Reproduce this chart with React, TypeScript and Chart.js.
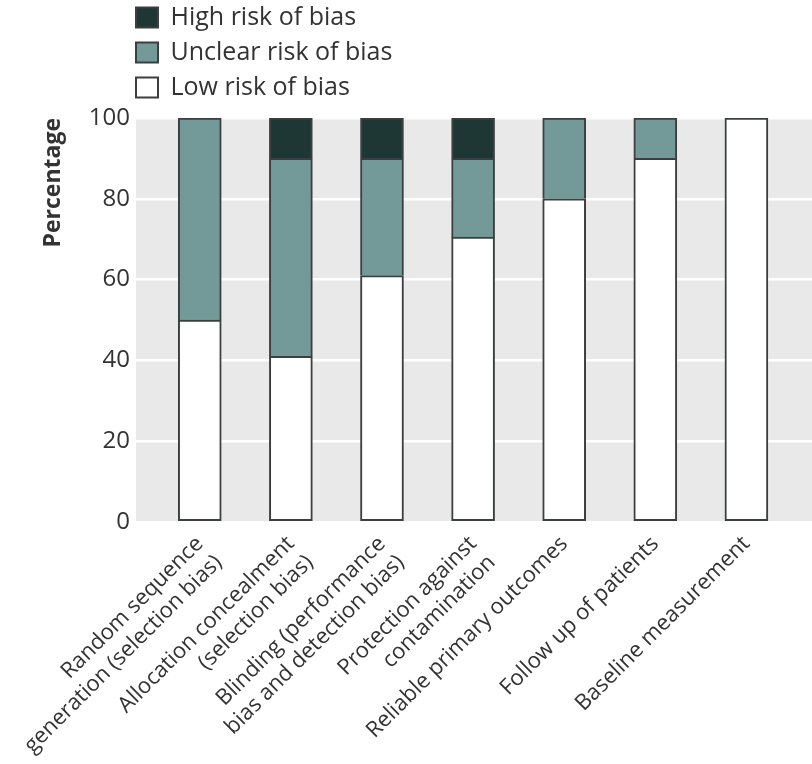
import { useEffect, useRef } from "react";
import { Chart, registerables } from "chart.js";

Chart.register(...registerables);

const CATEGORIES: string[][] = [
  ["Random sequence", "generation (selection bias)"],
  ["Allocation concealment", "(selection bias)"],
  ["Blinding (performance", "bias and detection bias)"],
  ["Protection against", "contamination"],
  ["Reliable primary outcomes"],
  ["Follow up of patients"],
  ["Baseline measurement"],
];
const LOW_RISK = [50, 41, 61, 70.5, 80, 90, 100];
const UNCLEAR_RISK = [50, 49, 29, 19.5, 20, 10, 0];
const HIGH_RISK = [0, 10, 10, 10, 0, 0, 0];
const SERIES_NAMES = ["Low risk of bias", "Unclear risk of bias", "High risk of bias"];
const Y_TICKS = [0, 20, 40, 60, 80, 100];
const Y_TITLE = "Percentage";

const FONT = "'Open Sans', 'Noto Sans', sans-serif";
const TEXT = "#333333";
const BORDER = "#3b3f3f";

const bgPlugin = {
  id: "plotBackground",
  beforeDraw(chart: any) {
    const { ctx, chartArea } = chart;
    if (!chartArea) return;
    ctx.save();
    ctx.fillStyle = "#e9e9e9";
    ctx.fillRect(chartArea.left, chartArea.top, chartArea.right - chartArea.left, chartArea.bottom - chartArea.top);
    ctx.restore();
  },
};

const legendPlacePlugin = {
  id: "legendPlace",
  afterLayout(chart: any) {
    const lg = chart.legend;
    if (!lg) return;
    const w = lg.width;
    const h = lg.height;
    lg.left = 126;
    lg.top = -5;
    lg.right = lg.left + w;
    lg.bottom = lg.top + h;
  },
};

export default function App() {
  const ref = useRef<HTMLCanvasElement | null>(null);

  useEffect(() => {
    document.body.style.margin = "0";
    if (!ref.current) return;
    const toPts = (arr: number[]) => arr.map((v, i) => ({ x: i, y: v }));
    const chart = new Chart(ref.current, {
      type: "bar",
      data: {
        datasets: [
          {
            label: SERIES_NAMES[0],
            data: toPts(LOW_RISK) as any,
            backgroundColor: "#ffffff",
            borderColor: BORDER,
            borderWidth: 2,
            borderSkipped: false,
            barThickness: 43,
          },
          {
            label: SERIES_NAMES[1],
            data: toPts(UNCLEAR_RISK) as any,
            backgroundColor: "#739a98",
            borderColor: BORDER,
            borderWidth: 2,
            borderSkipped: "start",
            barThickness: 43,
          },
          {
            label: SERIES_NAMES[2],
            data: toPts(HIGH_RISK) as any,
            backgroundColor: "#1e3634",
            borderColor: BORDER,
            borderWidth: 2,
            borderSkipped: "start",
            barThickness: 43,
          },
        ],
      },
      options: {
        animation: false,
        responsive: true,
        maintainAspectRatio: false,
        layout: { padding: { top: 118, left: 0, right: 0, bottom: 0 } },
        plugins: {
          tooltip: { enabled: false },
          legend: {
            position: "chartArea",
            align: "start",
            reverse: true,
            labels: {
              color: TEXT,
              font: { family: FONT, size: 25 },
              boxWidth: 22,
              boxHeight: 20,
              padding: 10,
            },
          },
        },
        scales: {
          x: {
            type: "linear",
            offset: false,
            min: -0.7,
            max: 6.72,
            stacked: true,
            grid: { display: false, offset: false },
            border: { display: false },
            afterBuildTicks: (s: any) => {
              s.ticks = CATEGORIES.map((_, i) => ({ value: i }));
            },
            afterFit: (s: any) => {
              s.height = 242;
              s.paddingLeft = 0;
              s.paddingRight = 0;
            },
            ticks: {
              autoSkip: false,
              minRotation: 45,
              maxRotation: 45,
              padding: 1,
              color: TEXT,
              font: { family: FONT, size: 22 },
              callback: (v: any) => {
                const i = Math.round(Number(v));
                return CATEGORIES[i] ?? "";
              },
            },
          },
          y: {
            stacked: true,
            min: 0,
            max: 100,
            border: { display: false },
            grid: { color: "#ffffff", lineWidth: 2.5, drawTicks: false },
            afterBuildTicks: (s: any) => {
              s.ticks = Y_TICKS.map((v) => ({ value: v }));
            },
            afterFit: (s: any) => {
              s.width = 136;
            },
            ticks: {
              padding: 6,
              color: TEXT,
              font: { family: FONT, size: 24 },
            },
            title: {
              display: true,
              text: Y_TITLE,
              align: "end",
              color: TEXT,
              font: { family: FONT, size: 23, weight: "bold" },
              padding: { top: 40, bottom: 0 },
            },
          },
        },
      },
      plugins: [bgPlugin, legendPlacePlugin],
    } as any);
    return () => chart.destroy();
  }, []);

  return (
    <div style={{ width: 812, height: 764, position: "relative" }}>
      <canvas ref={ref} />
    </div>
  );
}
